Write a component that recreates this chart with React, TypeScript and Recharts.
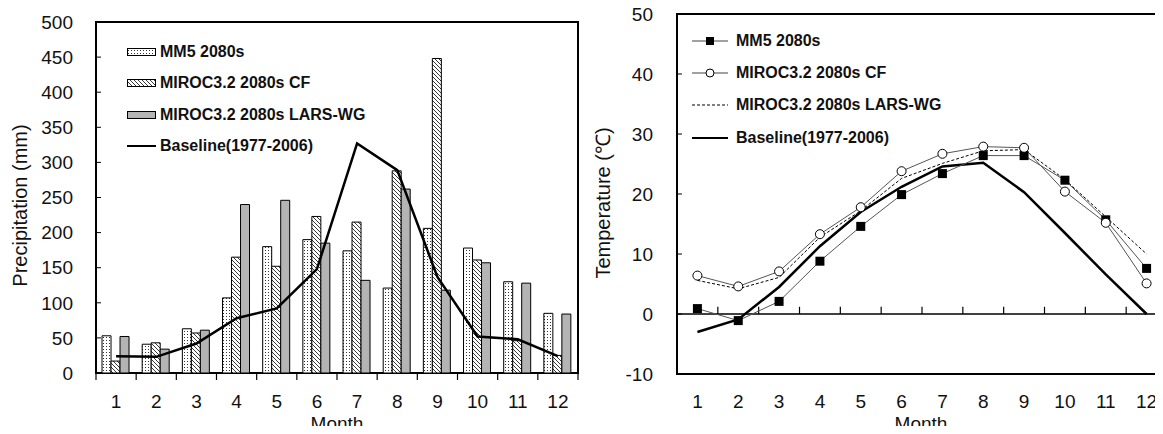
import React from 'react'
import {
  ComposedChart,
  Bar,
  Line,
  XAxis,
  YAxis,
  Legend,
  ReferenceArea,
  ReferenceLine,
} from 'recharts'

// ─── Data ─────────────────────────────────────────────────────────────────────

const MONTHS = ['1', '2', '3', '4', '5', '6', '7', '8', '9', '10', '11', '12']
const MONTH_NUMS = [1, 2, 3, 4, 5, 6, 7, 8, 9, 10, 11, 12]

// precipitation (mm)
const MM5_PRECIP = [53, 41, 63, 107, 180, 190, 174, 121, 206, 178, 130, 85]
const CF_PRECIP = [17, 43, 57, 165, 152, 223, 215, 288, 448, 161, 46, 25]
const LARS_PRECIP = [52, 34, 61, 240, 246, 185, 132, 262, 118, 157, 128, 84]
const BASE_PRECIP = [24, 23, 42, 78, 92, 148, 327, 289, 137, 52, 48, 24]

// temperature (°C)
const MM5_TEMP = [0.9, -1.1, 2.1, 8.8, 14.6, 19.9, 23.4, 26.4, 26.4, 22.3, 15.7, 7.6]
const CF_TEMP = [6.4, 4.6, 7.1, 13.3, 17.8, 23.8, 26.7, 27.9, 27.7, 20.4, 15.2, 5.1]
const LARS_TEMP = [5.6, 4.2, 6.1, 12.8, 17.2, 22.6, 25.1, 27.2, 27.4, 22.4, 16.2, 10.0]
const BASE_TEMP = [-3.0, -0.9, 4.5, 11.3, 17.0, 21.2, 24.6, 25.2, 20.3, 13.5, 6.6, 0.0]

const PRECIP_TICKS = [0, 50, 100, 150, 200, 250, 300, 350, 400, 450, 500]
const TEMP_TICKS = [-10, 0, 10, 20, 30, 40, 50]

// month boundaries, used for the tick marks between categories
const BAR_EDGES = [0.5, 1.5, 2.5, 3.5, 4.5, 5.5, 6.5, 7.5, 8.5, 9.5, 10.5, 11.5, 12.5]
const ZERO_EDGES = [1.5, 2.5, 3.5, 4.5, 5.5, 6.5, 7.5, 8.5, 9.5, 10.5, 11.5]

const precipRows = MONTHS.map((month, i) => ({
  month,
  n: MONTH_NUMS[i],
  mm5: MM5_PRECIP[i],
  cf: CF_PRECIP[i],
  lars: LARS_PRECIP[i],
  base: BASE_PRECIP[i],
}))

const tempRows = MONTH_NUMS.map((n, i) => ({
  n,
  mm5: MM5_TEMP[i],
  cf: CF_TEMP[i],
  lars: LARS_TEMP[i],
  base: BASE_TEMP[i],
}))

// ─── Styling ──────────────────────────────────────────────────────────────────

const FONT = '"Liberation Sans", Arial, Helvetica, sans-serif'
const INK = '#111'
const GREY_BAR = '#b4b4b4'
const tickStyle = { fontSize: 19, fill: INK, fontFamily: FONT }

// ─── Small pieces ─────────────────────────────────────────────────────────────

function Patterns() {
  return (
    <defs>
      <pattern id="dots" width="3" height="3" patternUnits="userSpaceOnUse">
        <rect width="3" height="3" fill="#fff" />
        <rect x="1" y="1" width="1" height="1" fill="#333" />
      </pattern>
      <pattern id="hatch" width="4" height="4" patternUnits="userSpaceOnUse">
        <rect width="4" height="4" fill="#fff" />
        <path d="M-1,-1 L5,5 M3,-1 L5,1 M-1,3 L1,5" stroke="#222" strokeWidth="0.9" />
      </pattern>
    </defs>
  )
}

function YLabel({ viewBox, text, dx, dy }: any) {
  if (!viewBox) return null
  const x = viewBox.x + dx
  const y = viewBox.y + viewBox.height / 2 + dy
  return (
    <text
      x={x}
      y={y}
      transform={`rotate(-90, ${x}, ${y})`}
      textAnchor="middle"
      dominantBaseline="central"
      fontSize={20}
      fill={INK}
      fontFamily={FONT}
    >
      {text}
    </text>
  )
}

// x-axis titles, drawn under both charts' tick labels
function MonthTitles() {
  return (
    <svg
      width={1163}
      height={434}
      style={{ position: 'absolute', left: 0, top: 0, pointerEvents: 'none' }}
    >
      {[337, 921].map((cx) => (
        <text key={cx} x={cx} y={429.5} textAnchor="middle" fontSize={19} fill={INK} fontFamily={FONT}>
          Month
        </text>
      ))}
    </svg>
  )
}

function SquareDot({ cx, cy }: any) {
  if (cx == null || cy == null) return null
  return <rect x={cx - 4.5} y={cy - 4.5} width={9} height={9} fill="#000" />
}

const legendText = { font: `bold 16px ${FONT}`, color: INK, whiteSpace: 'nowrap' as const }

function BarLegend() {
  const rows = [
    { label: 'MM5 2080s', fill: 'url(#dots)' },
    { label: 'MIROC3.2 2080s CF', fill: 'url(#hatch)' },
    { label: 'MIROC3.2 2080s LARS-WG', fill: GREY_BAR },
    { label: 'Baseline(1977-2006)', fill: null },
  ]
  return (
    <div style={legendText}>
      {rows.map((r) => (
        <div key={r.label} style={{ height: 31.5, display: 'flex', alignItems: 'center' }}>
          <svg width={33} height={12} style={{ display: 'block' }}>
            {r.fill ? (
              <rect x={0.5} y={2.5} width={28} height={7} fill={r.fill} stroke="#000" />
            ) : (
              <line x1={0} x2={29} y1={6} y2={6} stroke="#000" strokeWidth={2} />
            )}
          </svg>
          <span>{r.label}</span>
        </div>
      ))}
    </div>
  )
}

function LineLegend() {
  const rows = [
    { label: 'MM5 2080s', kind: 'square' },
    { label: 'MIROC3.2 2080s CF', kind: 'circle' },
    { label: 'MIROC3.2 2080s LARS-WG', kind: 'dash' },
    { label: 'Baseline(1977-2006)', kind: 'thick' },
  ]
  return (
    <div style={legendText}>
      {rows.map((r) => (
        <div key={r.label} style={{ height: 32.2, display: 'flex', alignItems: 'center' }}>
          <svg width={44} height={12} style={{ display: 'block' }}>
            {r.kind === 'square' && (
              <>
                <line x1={0} x2={36} y1={6} y2={6} stroke="#444" strokeWidth={1} />
                <rect x={14} y={2} width={8} height={8} fill="#000" />
              </>
            )}
            {r.kind === 'circle' && (
              <>
                <line x1={0} x2={36} y1={6} y2={6} stroke="#444" strokeWidth={1} />
                <circle cx={18} cy={6} r={4} fill="#fff" stroke="#000" />
              </>
            )}
            {r.kind === 'dash' && (
              <line x1={0} x2={36} y1={6} y2={6} stroke="#000" strokeWidth={1} strokeDasharray="3 2" />
            )}
            {r.kind === 'thick' && (
              <line x1={0} x2={36} y1={6} y2={6} stroke="#000" strokeWidth={2} />
            )}
          </svg>
          <span>{r.label}</span>
        </div>
      ))}
    </div>
  )
}

// ─── Charts ───────────────────────────────────────────────────────────────────

function PrecipChart() {
  return (
    <ComposedChart
      width={582}
      height={434}
      data={precipRows}
      margin={{ top: 22, right: 4, bottom: 0, left: 0 }}
      barCategoryGap="15%"
      barGap={0}
    >
      <Patterns />
      <XAxis
        xAxisId="c"
        dataKey="month"
        height={61}
        axisLine={false}
        tickLine={false}
        tickMargin={16}
        tick={tickStyle}
        interval={0}
      />
      <XAxis xAxisId="n" dataKey="n" type="number" domain={[0.5, 12.5]} hide allowDataOverflow />
      <YAxis
        width={96}
        domain={[0, 500]}
        ticks={PRECIP_TICKS}
        interval={0}
        axisLine={false}
        tickLine={{ stroke: '#000' }}
        tickSize={-5}
        tickMargin={28}
        tick={tickStyle}
        label={<YLabel text="Precipitation (mm)" dx={20} dy={8} />}
      />
      <Legend
        layout="vertical"
        align="center"
        verticalAlign="middle"
        content={() => <BarLegend />}
        wrapperStyle={{ left: 127, top: 36, width: 'auto' }}
      />
      <Bar xAxisId="c" dataKey="mm5" fill="url(#dots)" stroke="#000" strokeWidth={1} isAnimationActive={false} />
      <Bar xAxisId="c" dataKey="cf" fill="url(#hatch)" stroke="#000" strokeWidth={1} isAnimationActive={false} />
      <Bar xAxisId="c" dataKey="lars" fill={GREY_BAR} stroke="#000" strokeWidth={1} isAnimationActive={false} />
      <Line
        xAxisId="c"
        dataKey="base"
        stroke="#000"
        strokeWidth={2.5}
        dot={false}
        isAnimationActive={false}
      />
      {BAR_EDGES.map((e) => (
        <ReferenceLine
          key={e}
          xAxisId="n"
          segment={[{ x: e, y: 0 }, { x: e, y: -10 }]}
          stroke="#000"
          strokeWidth={1.2}
          ifOverflow="visible"
        />
      ))}
      <ReferenceArea
        xAxisId="c"
        y1={0}
        y2={500}
        fill="none"
        stroke="#000"
        strokeWidth={2}
        ifOverflow="visible"
      />
    </ComposedChart>
  )
}

function TempChart() {
  return (
    <ComposedChart
      width={582}
      height={434}
      data={tempRows}
      margin={{ top: 14, right: 5, bottom: 0, left: 0 }}
    >
      <XAxis
        xAxisId="n"
        dataKey="n"
        type="number"
        domain={[0.5, 12.5]}
        ticks={MONTH_NUMS}
        interval={0}
        allowDataOverflow
        height={60}
        axisLine={false}
        tickLine={false}
        tickMargin={15}
        tick={tickStyle}
      />
      <YAxis
        width={87}
        domain={[-10, 50]}
        ticks={TEMP_TICKS}
        interval={0}
        axisLine={false}
        tickLine={{ stroke: '#000' }}
        tickSize={-5}
        tickMargin={29}
        tick={tickStyle}
        label={<YLabel text="Temperature (℃)" dx={13} dy={9} />}
      />
      <Legend
        layout="vertical"
        align="center"
        verticalAlign="middle"
        content={() => <LineLegend />}
        wrapperStyle={{ left: 102, top: 25, width: 'auto' }}
      />
      <ReferenceLine xAxisId="n" y={0} stroke="#000" strokeWidth={1.5} />
      {ZERO_EDGES.map((e) => (
        <ReferenceLine
          key={e}
          xAxisId="n"
          segment={[{ x: e, y: 0 }, { x: e, y: 1.2 }]}
          stroke="#000"
          strokeWidth={1.2}
        />
      ))}
      <Line
        xAxisId="n"
        dataKey="lars"
        stroke="#000"
        strokeWidth={1}
        strokeDasharray="3 2"
        dot={false}
        isAnimationActive={false}
      />
      <Line
        xAxisId="n"
        dataKey="base"
        stroke="#000"
        strokeWidth={2.5}
        dot={false}
        isAnimationActive={false}
      />
      <Line
        xAxisId="n"
        dataKey="mm5"
        stroke="#555"
        strokeWidth={1}
        dot={<SquareDot />}
        isAnimationActive={false}
      />
      <Line
        xAxisId="n"
        dataKey="cf"
        stroke="#555"
        strokeWidth={1}
        dot={{ r: 4.5, fill: '#fff', stroke: '#000', strokeWidth: 1 }}
        isAnimationActive={false}
      />
      <ReferenceArea
        xAxisId="n"
        y1={-10}
        y2={50}
        fill="none"
        stroke="#000"
        strokeWidth={2}
        ifOverflow="visible"
      />
    </ComposedChart>
  )
}

export default function App() {
  return (
    <div
      style={{
        position: 'relative',
        margin: -8,
        width: 1163,
        height: 434,
        overflow: 'hidden',
        background: '#fff',
        fontFamily: FONT,
      }}
    >
      <div style={{ position: 'absolute', left: 0, top: 0 }}>
        <PrecipChart />
      </div>
      <div style={{ position: 'absolute', left: 590, top: 0 }}>
        <TempChart />
      </div>
      <MonthTitles />
    </div>
  )
}
